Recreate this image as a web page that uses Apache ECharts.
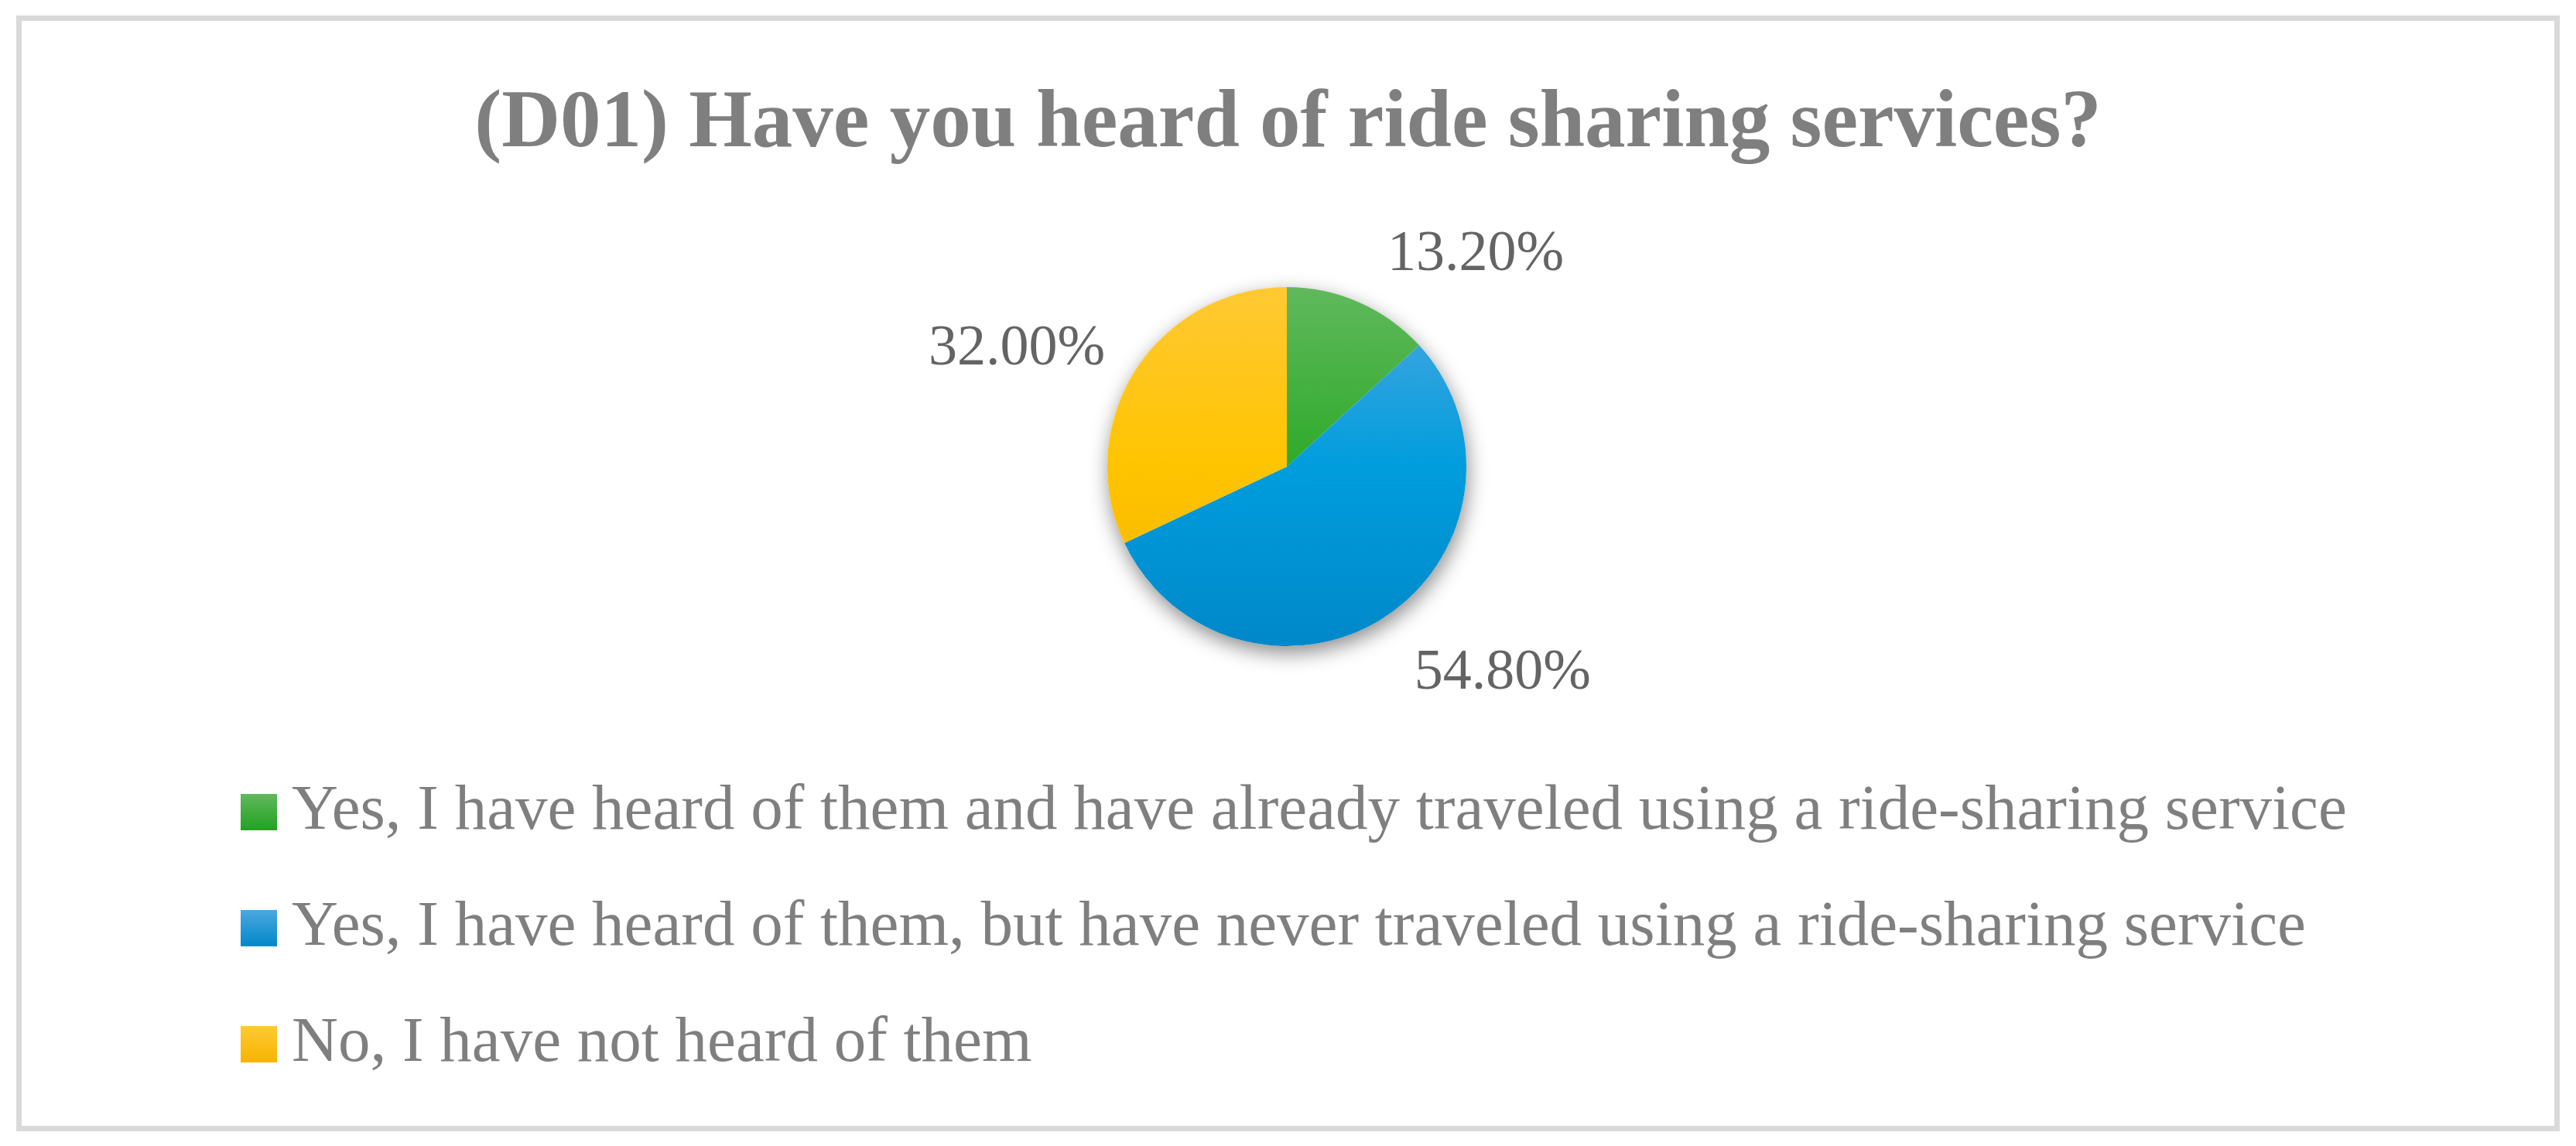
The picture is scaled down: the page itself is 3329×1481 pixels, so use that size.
<!DOCTYPE html>
<html>
<head>
<meta charset="utf-8">
<title>D01 ride sharing</title>
<script src="https://cdn.jsdelivr.net/npm/echarts@6/dist/echarts.min.js"></script>
<style>
  html, body {
    margin: 0;
    padding: 0;
    background: #fff;
  }
  #chart {
    position: absolute;
    left: 0;
    top: 0;
    width: 3329px;
    height: 1481px;
  }
  /* light grey frame around the chart area */
  .frame {
    position: absolute;
    left: 21px;
    top: 20px;
    width: 3287px;
    height: 1442px;
    border: 7px solid #d9d9d9;
    box-sizing: border-box;
    pointer-events: none;
  }
</style>
</head>
<body>
<div id="chart"></div>
<div class="frame"></div>
<script>
// 題目與選項
const chartTitle = "(D01) Have you heard of ride sharing services?";
const categories = [
  "Yes, I have heard of them and have already traveled using a ride-sharing service",
  "Yes, I have heard of them, but have never traveled using a ride-sharing service",
  "No, I have not heard of them",
];
// 百分比
const shares = [13.2, 54.8, 32.0];

// 調色盤: [上, 中, 下]
const palette = [
  ["#60b95c", "#2eaa2a", "#22a122"],
  ["#4da7e0", "#009ddd", "#0088c9"],
  ["#ffc934", "#ffc400", "#f6b400"],
];

// 標籤微調 (px)
const labelNudge = [
  { dx: 0, dy: 10 },
  { dx: -13, dy: 10 },
  { dx: 32, dy: 15 },
];

const serifFont = '"Palatino Linotype", "Book Antiqua", Palatino, "Liberation Serif", serif';

const pieCenter = [1663, 603];
const pieRadius = 232;

/** 整個圓共用一個垂直漸層 */
const sliceGradient = (stops) =>
  new echarts.graphic.LinearGradient(
    0, pieCenter[1] - pieRadius, 0, pieCenter[1] + pieRadius,
    [
      { offset: 0, color: stops[0] },
      { offset: 0.5, color: stops[1] },
      { offset: 1, color: stops[2] },
    ],
    true
  );

/** 圖例小方塊的漸層 */
const markerGradient = (stops) =>
  new echarts.graphic.LinearGradient(0, 0, 0, 1, [
    { offset: 0, color: stops[0] },
    { offset: 1, color: stops[2] },
  ]);

const chart = echarts.init(document.getElementById("chart"));

const option = {
  backgroundColor: "#fff",
  animation: false,
  title: {
    text: chartTitle,
    left: "center",
    top: 104,
    textStyle: {
      fontFamily: serifFont,
      fontSize: 105,
      fontWeight: "bold",
      color: "#7f7f7f",
    },
  },
  legend: {
    orient: "vertical",
    left: 306,
    top: 1003,
    itemWidth: 75,
    itemHeight: 47,
    itemGap: 67,
    icon: "path://M0,0L10,0L10,10L0,10Z",
    selectedMode: false,
    textStyle: {
      fontFamily: serifFont,
      fontSize: 83,
      color: "#7f7f7f",
    },
    data: categories.map((name, i) => ({
      name: name,
      itemStyle: { color: markerGradient(palette[i]) },
    })),
  },
  series: [
    {
      // 陰影底圖
      type: "pie",
      silent: true,
      center: pieCenter,
      radius: pieRadius,
      z: 1,
      label: { show: false },
      labelLine: { show: false },
      itemStyle: {
        color: "#fff",
        shadowBlur: 26,
        shadowOffsetX: 2,
        shadowOffsetY: 9,
        shadowColor: "rgba(0, 0, 0, 0.45)",
      },
      data: [{ value: 1, name: "_shadow" }],
    },
    {
      type: "pie",
      center: pieCenter,
      radius: pieRadius,
      startAngle: 90,
      clockwise: true,
      z: 2,
      emphasis: { disabled: true },
      label: {
        show: true,
        position: "outside",
        fontFamily: serifFont,
        fontSize: 74,
        color: "#646464",
        formatter: (p) => p.value.toFixed(2) + "%",
      },
      labelLine: { show: false, length: 78, length2: 0 },
      labelLayout: (params) => labelNudge[params.dataIndex],
      data: categories.map((name, i) => ({
        name: name,
        value: shares[i],
        itemStyle: { color: sliceGradient(palette[i]) },
      })),
    },
  ],
};

chart.setOption(option);
</script>
</body>
</html>
